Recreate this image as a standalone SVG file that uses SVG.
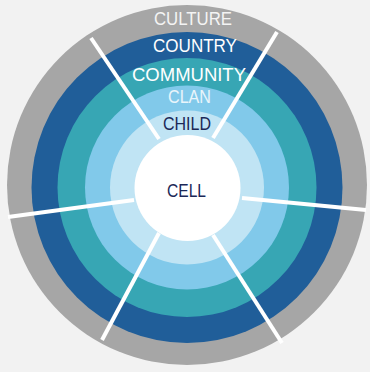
<svg xmlns="http://www.w3.org/2000/svg" width="370" height="372" viewBox="0 0 370 372">
  <style>
    .lbl { font-family: "Liberation Sans", Arial, sans-serif; font-size: 18px; text-anchor: middle; }
    .spoke { stroke: #ffffff; stroke-width: 4; stroke-linecap: butt; fill: none; }
  </style>
  <rect x="0" y="0" width="370" height="372" fill="#f2f2f2"/>
  <g id="culture">
    <circle cx="187" cy="185" r="180" fill="#a6a6a6"/>
    <text class="lbl" x="193" y="25" fill="#f4f4f4" textLength="78" lengthAdjust="spacingAndGlyphs">CULTURE</text>
  </g>
  <g id="country">
    <circle cx="187" cy="187.5" r="155.5" fill="#205e99"/>
    <text class="lbl" x="195" y="52" fill="#ffffff" textLength="84" lengthAdjust="spacingAndGlyphs">COUNTRY</text>
  </g>
  <g id="community">
    <circle cx="187" cy="187.5" r="129.5" fill="#37a6b4"/>
    <text class="lbl" x="189" y="81" fill="#ffffff" textLength="114" lengthAdjust="spacingAndGlyphs">COMMUNITY</text>
  </g>
  <g id="clan">
    <circle cx="187" cy="187.5" r="102" fill="#81c9ea"/>
    <text class="lbl" x="189.5" y="103" fill="#e9f5fb" textLength="43" lengthAdjust="spacingAndGlyphs">CLAN</text>
  </g>
  <g id="child">
    <circle cx="187" cy="187.5" r="77" fill="#c0e4f4"/>
    <text class="lbl" x="187" y="130" fill="#1b2857" textLength="48" lengthAdjust="spacingAndGlyphs">CHILD</text>
  </g>
  <g id="connectors">
    <line class="spoke" x1="91" y1="38" x2="159" y2="139"/>
    <line class="spoke" x1="277" y1="32" x2="213" y2="138"/>
    <line class="spoke" x1="8" y1="217" x2="134" y2="200"/>
    <line class="spoke" x1="242" y1="198" x2="366" y2="210"/>
    <line class="spoke" x1="159" y1="233" x2="102" y2="340"/>
    <line class="spoke" x1="213" y1="235" x2="282" y2="343"/>
  </g>
  <g id="cell">
    <circle cx="187.5" cy="188" r="53" fill="#ffffff"/>
    <text class="lbl" x="186.5" y="197" fill="#1b2857" textLength="39" lengthAdjust="spacingAndGlyphs">CELL</text>
  </g>
</svg>
